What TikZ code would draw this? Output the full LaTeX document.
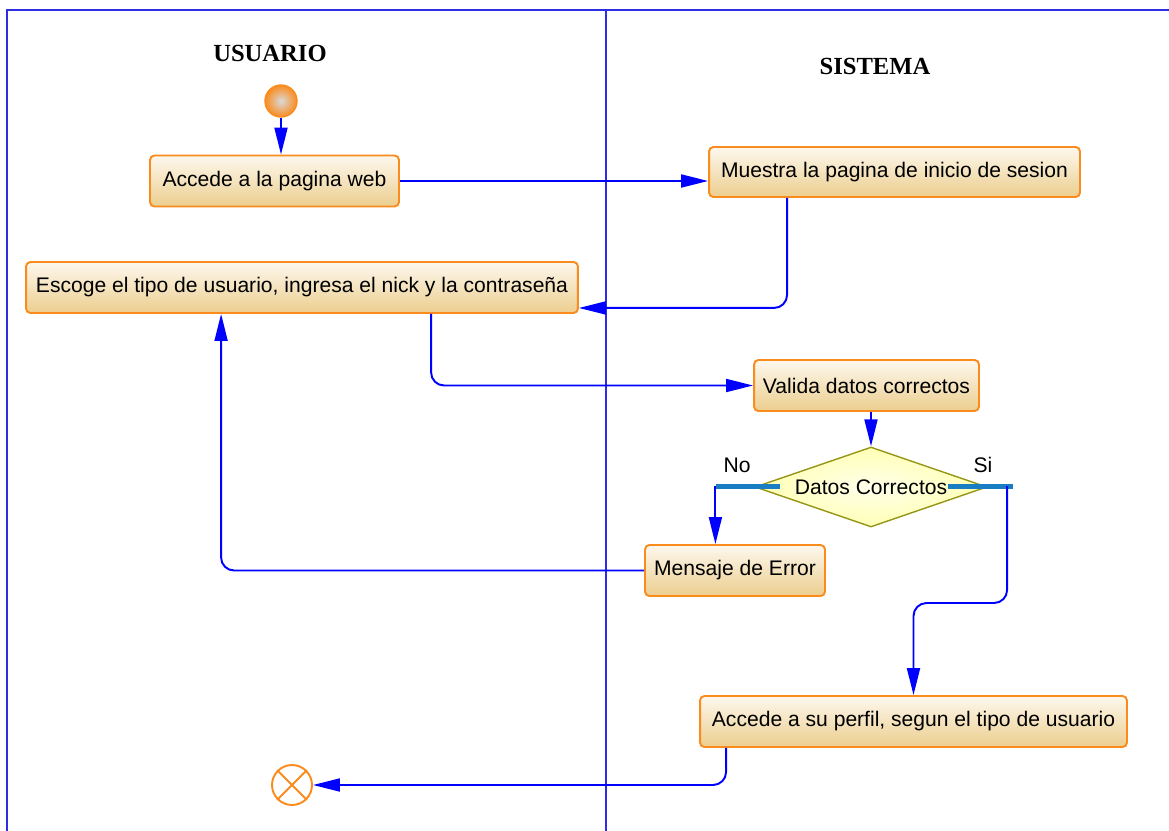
\documentclass[tikz,border=0pt]{standalone}
\usepackage{fontspec}
\setmainfont{Liberation Serif}
\setsansfont{Liberation Sans}
\usetikzlibrary{positioning,arrows.meta,shapes.geometric,calc}
\definecolor{laneblue}{RGB}{45,45,230}
\definecolor{flowblue}{RGB}{0,0,255}
\definecolor{boxline}{RGB}{250,140,30}
\definecolor{boxtop}{RGB}{253,248,238}
\definecolor{boxbot}{RGB}{236,206,142}
\definecolor{decline}{RGB}{150,150,20}
\definecolor{decin}{RGB}{255,255,235}
\definecolor{decout}{RGB}{255,255,180}
\definecolor{barblue}{RGB}{25,125,195}
\tikzset{
  act/.style={draw=boxline, line width=1.1pt, rounded corners=2.5pt, top color=boxtop, bottom color=boxbot, font=\sffamily\fontsize{12}{14}\selectfont, inner sep=0pt, minimum height=1.02cm},
  dec/.style={diamond, draw=decline, line width=0.8pt, inner color=decin, outer color=decout, font=\sffamily\fontsize{12}{14}\selectfont, inner sep=0pt, aspect=2.9, minimum width=4.64cm, minimum height=1.6cm},
  bar/.style={fill=barblue, inner sep=0pt, minimum width=1.29cm, minimum height=0.1cm},
  inicio/.style={circle, draw=boxline, line width=0.8pt, inner color=gray!30, outer color=boxline, minimum size=0.64cm, inner sep=0pt},
  final/.style={circle, draw=boxline, line width=1.1pt, minimum size=0.8cm, inner sep=0pt},
  flow/.style={draw=flowblue, line width=1.1pt, -{Triangle[length=0.54cm,width=0.26cm]}, rounded corners=0.26cm},
  lane/.style={draw=laneblue, line width=0.8pt},
  lanetitle/.style={font=\bfseries\fontsize{14}{16}\selectfont},
  tag/.style={font=\sffamily\fontsize{12}{14}\selectfont},
}
\begin{document}
\begin{tikzpicture}[x=0.02cm, y=-0.02cm]
  \useasboundingbox (0,0) rectangle (1169,831);
  % carriles
  \draw[lane] (7,831) -- (7,10) -- (1169,10);
  \draw[lane] (606,10) -- (606,831);
  \node[lanetitle] (usuario) at (270,53) {USUARIO};
  \node[lanetitle] (sistema) at (875,66) {SISTEMA};
  % actividades
  \node[inicio] (inicio) at (281,101) {};
  \node[act, minimum width=4.98cm] (web) at (274.5,181) {Accede a la pagina web};
  \node[act, minimum width=7.42cm, minimum height=1.0cm] (muestra) at (894.5,172) {Muestra la pagina de inicio de sesion};
  \node[act, minimum width=11.04cm] (escoge) at (302,287.5) {Escoge el tipo de usuario, ingresa el nick y la contraseña};
  \node[act, minimum width=4.5cm] (valida) at (866.5,385.5) {Valida datos correctos};
  \node[dec] (datos) at (871,487) {Datos Correctos};
  \node[bar] (nobar) at (748,486) {};
  \node[bar] (sibar) at (980.5,486) {};
  \node[tag] (no) at (737,465) {No};
  \node[tag] (si) at (983,465) {Si};
  \node[act, minimum width=3.6cm] (error) at (735,570.5) {Mensaje de Error};
  \node[act, minimum width=8.54cm] (perfil) at (913.5,721.5) {Accede a su perfil, segun el tipo de usuario};
  \node[final] (fin) at (292,785) {};
  \draw[boxline, line width=1.1pt] (fin.45) -- (fin.225) (fin.135) -- (fin.315);
  % flujos
  \draw[flow] (inicio) -- (inicio |- web.north);
  \draw[flow] (web.east) -- (web.east -| muestra.west);
  \draw[flow] ($(muestra.south west)+(79,0)$) |- ($(escoge.south east)+(0,-6)$);
  \draw[flow] ($(escoge.south west)+(406,0)$) |- (valida.west);
  \draw[flow] (valida.south -| datos.north) -- (datos.north);
  \draw[flow] (nobar.west) -- (nobar.west |- error.north);
  \draw[flow] (error.west) -| ($(escoge.south west)+(196,0)$);
  \draw[flow] ($(sibar.east)+(-6,0)$) -- ++(0,117) -| (perfil.north);
  \draw[flow] ($(perfil.south west)+(27,0)$) |- (fin.east);
\end{tikzpicture}
\end{document}
